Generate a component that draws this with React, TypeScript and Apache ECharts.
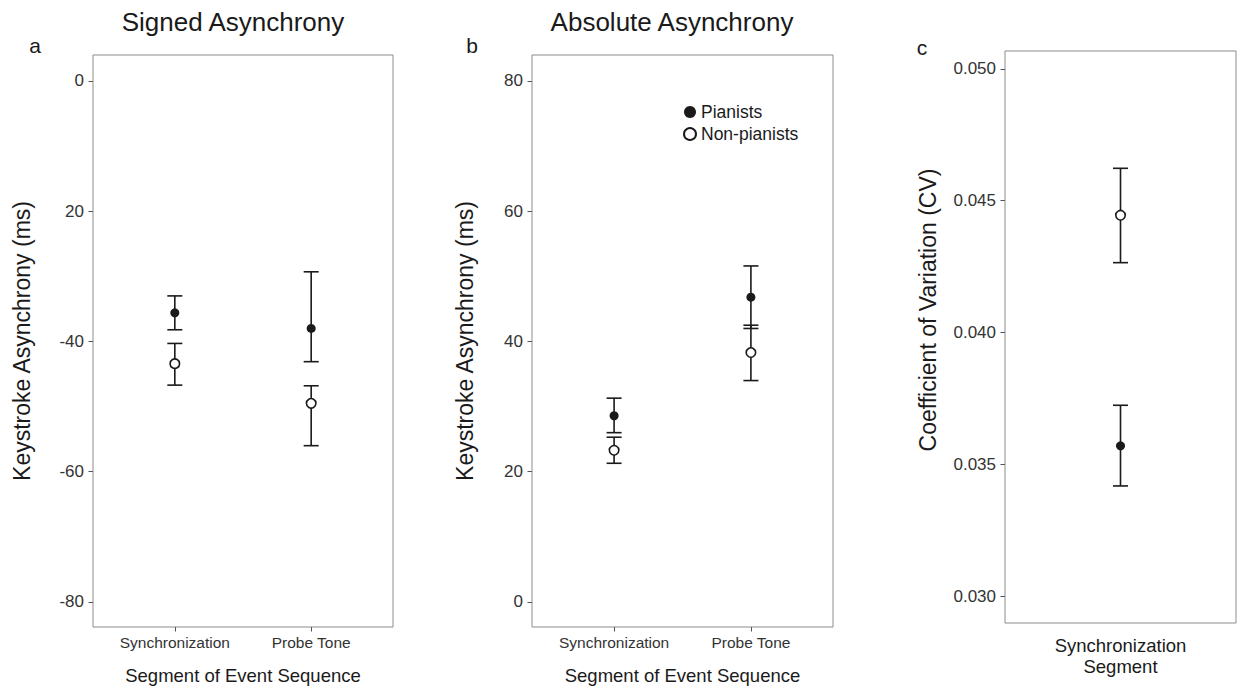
import React, { useEffect, useRef } from "react";
import * as echarts from "echarts";

const categories = ["Synchronization", "Probe Tone"];
const cvCategory = ["Synchronization Segment"];

// Panel a: signed asynchrony (ms)
const signedPianistMean = [-35.6, -38.0];
const signedPianistLow = [-38.2, -43.1];
const signedPianistHigh = [-33.0, -29.3];
const signedNonMean = [-43.4, -49.5];
const signedNonLow = [-46.7, -56.0];
const signedNonHigh = [-40.3, -46.8];

// Panel b: absolute asynchrony (ms)
const absPianistMean = [28.6, 46.8];
const absPianistLow = [26.0, 42.0];
const absPianistHigh = [31.3, 51.6];
const absNonMean = [23.3, 38.3];
const absNonLow = [21.3, 34.0];
const absNonHigh = [25.3, 42.5];

// Panel c: coefficient of variation
const cvPianistMean = [0.0357];
const cvPianistLow = [0.03418];
const cvPianistHigh = [0.03724];
const cvNonMean = [0.04445];
const cvNonLow = [0.04265];
const cvNonHigh = [0.04623];

// tick values and labels
const signedTicks = [0, -20, -40, -60, -80];
const signedTickLabels = ["0", "20", "-40", "-60", "-80"];
const absTicks = [0, 20, 40, 60, 80];
const absTickLabels = ["0", "20", "40", "60", "80"];
const cvTicks = [0.03, 0.035, 0.04, 0.045, 0.05];
const cvTickLabels = ["0.030", "0.035", "0.040", "0.045", "0.050"];

const FONT = "'Liberation Sans', Arial, sans-serif";
const INK = "#1a1a1a";
const TICKTXT = "#333333";
const BORDER = "#8c8c8c";

function labelFor(ticks: number[], labels: string[]) {
  return (v: number) => {
    let best = 0;
    let d = Infinity;
    ticks.forEach((t, i) => {
      const dd = Math.abs(t - v);
      if (dd < d) {
        d = dd;
        best = i;
      }
    });
    return labels[best];
  };
}

const errorBar = (params: any, api: any) => {
  const x = api.value(0);
  const lo = api.coord([x, api.value(1)]);
  const hi = api.coord([x, api.value(2)]);
  const w = 7.5;
  const style = { stroke: INK, lineWidth: 1.6 };
  return {
    type: "group",
    children: [
      { type: "line", shape: { x1: lo[0], y1: lo[1], x2: hi[0], y2: hi[1] }, style },
      { type: "line", shape: { x1: lo[0] - w, y1: lo[1], x2: lo[0] + w, y2: lo[1] }, style },
      { type: "line", shape: { x1: hi[0] - w, y1: hi[1], x2: hi[0] + w, y2: hi[1] }, style },
    ],
  };
};

function barSeries(name: string, idx: number, low: number[], high: number[]) {
  return {
    type: "custom",
    name,
    xAxisIndex: idx,
    yAxisIndex: idx,
    renderItem: errorBar,
    data: low.map((l, i) => [i + 1, l, high[i]]),
    z: 2,
    silent: true,
  };
}

function pointSeries(name: string, idx: number, mean: number[], filled: boolean) {
  return {
    type: "scatter",
    name,
    xAxisIndex: idx,
    yAxisIndex: idx,
    symbol: "circle",
    symbolSize: filled ? 9 : 9.5,
    itemStyle: filled
      ? { color: INK, borderColor: INK, borderWidth: 0, opacity: 1 }
      : { color: "#ffffff", borderColor: INK, borderWidth: 1.6, opacity: 1 },
    data: mean.map((m, i) => [i + 1, m]),
    z: 3,
  };
}

function yAxis(
  idx: number,
  min: number,
  max: number,
  ticks: number[],
  labels: string[],
  name: string,
  nameGap: number,
  shiftUp: number
) {
  return {
    gridIndex: idx,
    type: "value",
    min,
    max,
    axisLine: { show: false, onZero: false },
    splitLine: { show: false },
    axisTick: { show: true, customValues: ticks, length: 4.5, lineStyle: { color: "#555", width: 1 } },
    axisLabel: {
      customValues: ticks,
      formatter: labelFor(ticks, labels),
      fontSize: 17,
      color: TICKTXT,
      margin: 9,
      fontFamily: FONT,
    },
    name,
    nameLocation: "middle",
    nameGap,
    nameTextStyle: {
      fontSize: 23,
      color: INK,
      fontFamily: FONT,
      padding: [0, 0, 0, shiftUp * 2],
    },
  };
}

function xAxis(idx: number, max: number, showTicks: boolean, name: string, nameGap: number) {
  return {
    gridIndex: idx,
    type: "value",
    min: 0.4,
    max,
    axisLine: { show: false, onZero: false },
    splitLine: { show: false },
    axisTick: {
      show: showTicks,
      customValues: [1, 2],
      length: 4.5,
      lineStyle: { color: "#555", width: 1 },
    },
    axisLabel: {
      show: showTicks,
      customValues: [1, 2],
      formatter: (v: number) => categories[Math.round(v) - 1] || "",
      fontSize: 15.5,
      color: TICKTXT,
      margin: 7,
      fontFamily: FONT,
    },
    name,
    nameLocation: "middle",
    nameGap,
    nameTextStyle: { fontSize: 18.5, color: INK, fontFamily: FONT, lineHeight: 21 },
  };
}

function text(x: number, y: number, s: string, size: number) {
  return {
    type: "text",
    x,
    y,
    style: {
      text: s,
      fontSize: size,
      fill: INK,
      fontFamily: FONT,
      align: "center",
      verticalAlign: "middle",
    },
  };
}

const gridBase = {
  show: true,
  borderColor: BORDER,
  borderWidth: 1,
  backgroundColor: "transparent",
  containLabel: false,
  outerBoundsMode: "none",
};

export default function App() {
  const ref = useRef<HTMLDivElement>(null);
  useEffect(() => {
    if (!ref.current) return;
    const chart = echarts.init(ref.current, undefined, { renderer: "svg" });
    const option: any = {
      animation: false,
      backgroundColor: "#ffffff",
      textStyle: { fontFamily: FONT },
      grid: [
        { ...gridBase, left: 93, top: 55, width: 300, height: 572 },
        { ...gridBase, left: 532, top: 55, width: 301, height: 572 },
        { ...gridBase, left: 1005, top: 51, width: 231, height: 572 },
      ],
      xAxis: [
        xAxis(0, 2.6, true, "Segment of Event Sequence", 38),
        xAxis(1, 2.6, true, "Segment of Event Sequence", 38),
        xAxis(2, 1.6, false, cvCategory[0].replace(" ", "\n"), 12),
      ],
      yAxis: [
        yAxis(0, -83.84, 3.99, signedTicks, signedTickLabels, "Keystroke Asynchrony (ms)", 60, 0),
        yAxis(1, -3.84, 83.99, absTicks, absTickLabels, "Keystroke Asynchrony (ms)", 56, 0),
        yAxis(2, 0.02898, 0.05068, cvTicks, cvTickLabels, "Coefficient of Variation (CV)", 66, 27),
      ],
      legend: {
        orient: "vertical",
        left: 683,
        top: 103,
        padding: 0,
        itemGap: 4,
        itemWidth: 12,
        itemHeight: 12,
        textStyle: { fontSize: 17.5, color: INK, fontFamily: FONT },
        data: [
          { name: "Pianists", icon: "circle" },
          { name: "Non-pianists", icon: "circle" },
        ],
      },
      graphic: [
        text(233, 22, "Signed Asynchrony", 26),
        text(672, 22, "Absolute Asynchrony", 26),
        text(35, 45, "a", 21),
        text(472, 45, "b", 21),
        text(922, 47, "c", 21),
      ],
      series: [
        barSeries("Pianists SE a", 0, signedPianistLow, signedPianistHigh),
        barSeries("Non-pianists SE a", 0, signedNonLow, signedNonHigh),
        pointSeries("Pianists", 0, signedPianistMean, true),
        pointSeries("Non-pianists", 0, signedNonMean, false),
        barSeries("Pianists SE b", 1, absPianistLow, absPianistHigh),
        barSeries("Non-pianists SE b", 1, absNonLow, absNonHigh),
        pointSeries("Pianists", 1, absPianistMean, true),
        pointSeries("Non-pianists", 1, absNonMean, false),
        barSeries("Pianists SE c", 2, cvPianistLow, cvPianistHigh),
        barSeries("Non-pianists SE c", 2, cvNonLow, cvNonHigh),
        pointSeries("Pianists", 2, cvPianistMean, true),
        pointSeries("Non-pianists", 2, cvNonMean, false),
      ],
    };
    chart.setOption(option);
    return () => chart.dispose();
  }, []);
  return (
    <div
      ref={ref}
      style={{ position: "absolute", left: 0, top: 0, width: 1238, height: 687 }}
    />
  );
}
